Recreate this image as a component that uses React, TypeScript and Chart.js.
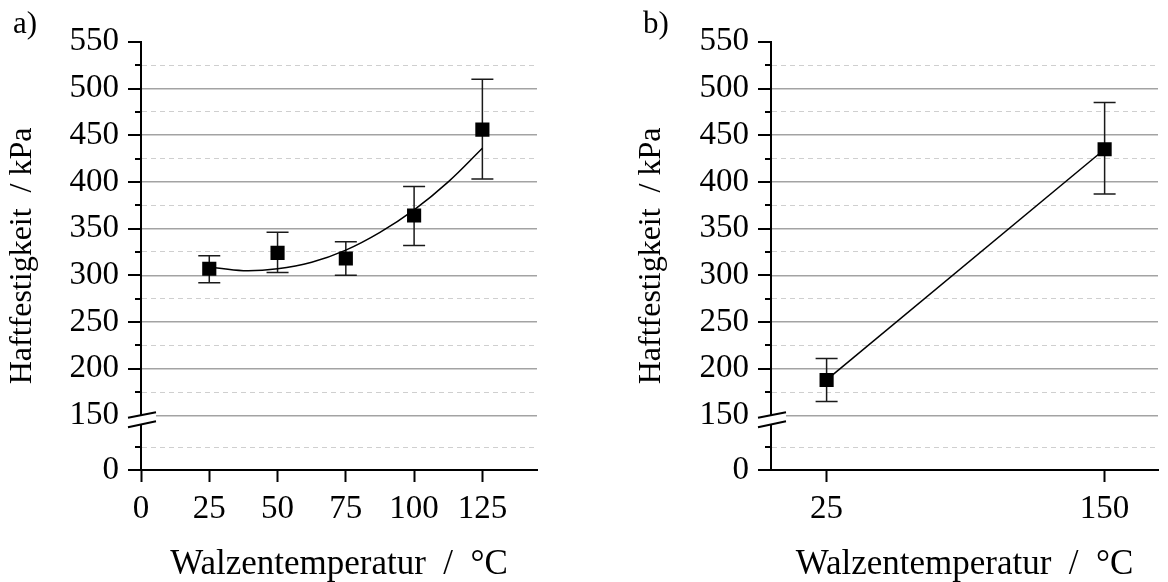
import React, { useEffect, useRef } from 'react';
import { Chart, registerables } from 'chart.js';
Chart.register(...registerables);

const FONT = "'Liberation Serif', 'Times New Roman', serif";

// ---- Panel a) ----
const tempsA = [25, 50, 75, 100, 125];
const strengthA = [307, 324, 318, 364, 456];
const errLowA = [292, 303, 300, 332, 403];
const errHighA = [321, 346, 336, 395, 510];
const fitXA = [25, 37.5, 50, 62.5, 75, 87.5, 100, 112.5, 125];
const fitYA = [309, 305, 307, 314, 327, 346, 370, 400, 436];
const xTicksA = [0, 25, 50, 75, 100, 125];

// ---- Panel b) ----
const tempsB = [25, 150];
const strengthB = [188, 435];
const errLowB = [165, 387];
const errHighB = [211, 485];
const xTicksB = [25, 150];

// ---- broken y axis ----
const yMajorTicks = [150, 200, 250, 300, 350, 400, 450, 500, 550];
const yMinorTicks = [175, 225, 275, 325, 375, 425, 475, 525];
const yBreakAt = 150;
const yZeroPos = 91.6; // position that carries the "0" label below the break
const yLowMinorPos = 116;

const allYTicks = [yZeroPos, yLowMinorPos, ...yMajorTicks, ...yMinorTicks].sort((a, b) => a - b);
const isMinor = (v: number) => yMinorTicks.includes(v) || v === yLowMinorPos;

function yLabel(v: number): string {
  if (v === yZeroPos) return '0';
  if (yMajorTicks.includes(v)) return String(v);
  return '';
}

function decorPlugin(label: string, labelX: number, errX: number[], errLo: number[], errHi: number[]) {
  return {
    id: 'decor',
    beforeDatasetsDraw(chart: any) {
      const { ctx, scales: { x, y } } = chart;
      ctx.save();
      ctx.strokeStyle = '#1a1a1a';
      ctx.lineWidth = 1.5;
      for (let i = 0; i < errX.length; i++) {
        const px = x.getPixelForValue(errX[i]);
        const lo = y.getPixelForValue(errLo[i]);
        const hi = y.getPixelForValue(errHi[i]);
        ctx.beginPath();
        ctx.moveTo(px, lo); ctx.lineTo(px, hi);
        ctx.moveTo(px - 11, lo); ctx.lineTo(px + 11, lo);
        ctx.moveTo(px - 11, hi); ctx.lineTo(px + 11, hi);
        ctx.stroke();
      }
      ctx.restore();
    },
    afterDraw(chart: any) {
      const { ctx, chartArea, scales: { y } } = chart;
      const ax = chartArea.left;
      ctx.save();
      ctx.strokeStyle = '#000';
      ctx.lineWidth = 2;
      y.ticks.forEach((t: any) => {
        if (t.value === yBreakAt) return;
        const len = isMinor(t.value) ? 6 : 13;
        const py = Math.round(y.getPixelForValue(t.value));
        ctx.beginPath();
        ctx.moveTo(ax - len, py);
        ctx.lineTo(ax, py);
        ctx.stroke();
      });
      // axis break
      const by = y.getPixelForValue(yBreakAt);
      ctx.fillStyle = '#fff';
      ctx.beginPath();
      ctx.moveTo(ax - 13, by + 2.3);
      ctx.lineTo(ax + 15, by - 3.3);
      ctx.lineTo(ax + 15, by + 5.7);
      ctx.lineTo(ax - 13, by + 11.7);
      ctx.closePath();
      ctx.fill();
      ctx.beginPath();
      ctx.moveTo(ax - 13, by + 2.3); ctx.lineTo(ax + 15, by - 3.3);
      ctx.moveTo(ax - 13, by + 11.7); ctx.lineTo(ax + 15, by + 5.7);
      ctx.stroke();
      // panel label
      ctx.fillStyle = '#000';
      ctx.font = `31px ${FONT}`;
      ctx.textAlign = 'left';
      ctx.textBaseline = 'alphabetic';
      ctx.fillText(label, labelX, 33);
      ctx.restore();
    },
  };
}

function makeOptions(xMin: number, xMax: number, xTicks: number[], yWidth: number, padRight: number) {
  return {
    responsive: false,
    animation: false,
    devicePixelRatio: 1,
    layout: { padding: { left: 7, top: 38, right: padRight, bottom: 0 } },
    plugins: { legend: { display: false }, tooltip: { enabled: false } },
    scales: {
      x: {
        type: 'linear',
        min: xMin,
        max: xMax,
        afterBuildTicks: (s: any) => { s.ticks = xTicks.map((v) => ({ value: v })); },
        afterFit: (s: any) => { s.height = 112; },
        grid: { drawOnChartArea: false, drawTicks: true, tickLength: 12, tickColor: '#000', tickWidth: 2 },
        border: { display: true, color: '#000', width: 2 },
        ticks: { color: '#000', font: { family: FONT, size: 33 }, padding: 8, maxRotation: 0, autoSkip: false },
        title: {
          display: true,
          text: 'Walzentemperatur  /  °C',
          color: '#000',
          font: { family: FONT, size: 35, lineHeight: 1 },
          padding: 0,
        },
      },
      y: {
        type: 'linear',
        min: yZeroPos,
        max: 550,
        afterBuildTicks: (s: any) => { s.ticks = allYTicks.map((v) => ({ value: v })); },
        afterFit: (s: any) => { s.width = yWidth; },
        grid: {
          drawTicks: false,
          color: (c: any) => {
            const v = c.tick ? c.tick.value : 0;
            if (v === yZeroPos || v === 550) return 'rgba(0,0,0,0)';
            return isMinor(v) ? '#cfcfcf' : '#a3a3a3';
          },
          lineWidth: (c: any) => (c.tick && isMinor(c.tick.value) ? 1 : 1.5),
          borderDash: (c: any) => (c.tick && isMinor(c.tick.value) ? [5, 4] : []),
        },
        border: {
          display: true,
          color: '#000',
          width: 2,
          dash: (c: any) => (c.type === 'tick' && c.tick && isMinor(c.tick.value) ? [5, 4] : []),
        },
        ticks: {
          color: '#000',
          font: { family: FONT, size: 33 },
          padding: 22,
          autoSkip: false,
          callback: (v: any) => yLabel(Number(v)),
        },
        title: {
          display: true,
          text: 'Haftfestigkeit  / kPa',
          color: '#000',
          font: { family: FONT, size: 32, lineHeight: 1 },
          padding: 0,
        },
      },
    },
  };
}

function PanelA() {
  const ref = useRef<HTMLCanvasElement>(null);
  useEffect(() => {
    const chart = new Chart(ref.current as HTMLCanvasElement, {
      type: 'scatter',
      data: {
        datasets: [
          {
            data: tempsA.map((x, i) => ({ x, y: strengthA[i] })),
            pointStyle: 'rect',
            pointRadius: 10,
            backgroundColor: '#000',
            borderColor: '#000',
            borderWidth: 0,
            showLine: false,
          },
          {
            data: fitXA.map((x, i) => ({ x, y: fitYA[i] })),
            showLine: true,
            pointRadius: 0,
            borderColor: '#000',
            borderWidth: 1.5,
            tension: 0.4,
          },
        ],
      },
      options: makeOptions(0, 145, xTicksA, 134, 92) as any,
      plugins: [decorPlugin('a)', 13, tempsA, errLowA, errHighA)],
    });
    return () => chart.destroy();
  }, []);
  return <canvas ref={ref} width={629} height={582} style={{ display: 'block' }} />;
}

function PanelB() {
  const ref = useRef<HTMLCanvasElement>(null);
  useEffect(() => {
    const chart = new Chart(ref.current as HTMLCanvasElement, {
      type: 'scatter',
      data: {
        datasets: [
          {
            data: tempsB.map((x, i) => ({ x, y: strengthB[i] })),
            pointStyle: 'rect',
            pointRadius: 10,
            backgroundColor: '#000',
            borderColor: '#000',
            borderWidth: 0,
            showLine: false,
          },
          {
            data: tempsB.map((x, i) => ({ x, y: strengthB[i] })),
            showLine: true,
            pointRadius: 0,
            borderColor: '#000',
            borderWidth: 1.5,
          },
        ],
      },
      options: makeOptions(0, 174, xTicksB, 135, 0) as any,
      plugins: [decorPlugin('b)', 14, tempsB, errLowB, errHighB)],
    });
    return () => chart.destroy();
  }, []);
  return <canvas ref={ref} width={539} height={582} style={{ display: 'block' }} />;
}

export default function App() {
  return (
    <div style={{ position: 'fixed', left: 0, top: 0, width: 1168, height: 582, overflow: 'hidden', background: '#fff' }}>
      <div style={{ position: 'absolute', left: 0, top: 0 }}>
        <PanelA />
      </div>
      <div style={{ position: 'absolute', left: 629, top: 0 }}>
        <PanelB />
      </div>
    </div>
  );
}
